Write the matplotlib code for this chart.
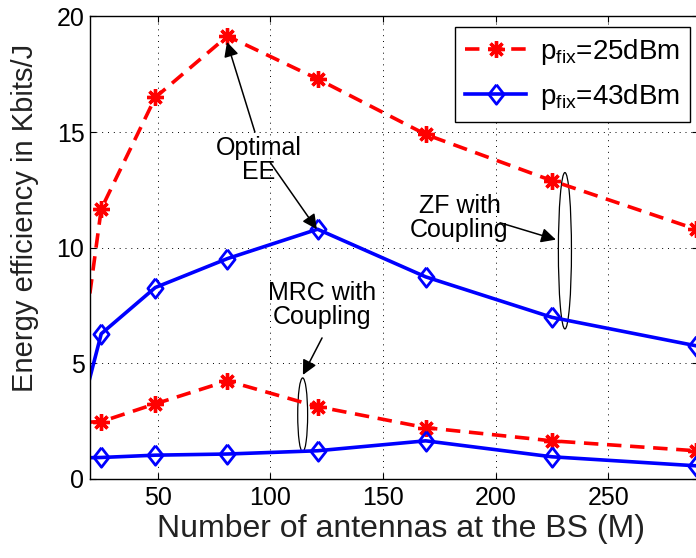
import matplotlib.pyplot as plt
from matplotlib.patches import Ellipse

plt.rcParams['font.family'] = ['Liberation Sans', 'DejaVu Sans']
plt.rcParams['mathtext.default'] = 'regular'

# number of BS antennas (odd squares)
antennas = [9, 25, 49, 81, 121, 169, 225, 289]

# energy efficiency (Kbits/J)
zf_25dbm = [0.1, 11.68, 16.5, 19.15, 17.3, 14.9, 12.9, 10.8]
zf_43dbm = [0.25, 6.28, 8.28, 9.53, 10.8, 8.74, 6.99, 5.76]
mrc_25dbm = [2.42, 2.48, 3.25, 4.24, 3.13, 2.22, 1.65, 1.22]
mrc_43dbm = [0.9, 0.93, 1.03, 1.08, 1.22, 1.65, 0.96, 0.57]

xticks = [50, 100, 150, 200, 250]
yticks = [0, 5, 10, 15, 20]

diamond = [(0, 1), (0.78, 0), (0, -1), (-0.78, 0), (0, 1)]
red_style = dict(color='red', lw=2.6, dashes=(4, 2.4), marker=(8, 2, 0),
                 ms=12, mew=2.4, mec='red')
blue_style = dict(color='blue', lw=2.6, marker=diamond, ms=14, mew=2.0,
                  mec='blue', mfc='none')

fig = plt.figure(figsize=(6.96, 5.58), dpi=100)
ax = fig.add_axes([0.1293, 0.1416, 0.874, 0.8289])

ax.plot(antennas, zf_25dbm, label=r'$p_{fix}$=25dBm', **red_style)
ax.plot(antennas, zf_43dbm, label=r'$p_{fix}$=43dBm', **blue_style)
ax.plot(antennas, mrc_25dbm, **red_style)
ax.plot(antennas, mrc_43dbm, **blue_style)

ax.set_xlim(20, 290)
ax.set_ylim(0, 20)
ax.set_xticks(xticks)
ax.set_yticks(yticks)
ax.tick_params(direction='in', length=4, width=0.8, labelsize=18,
               top=True, right=True, colors='black')
ax.tick_params(axis='x', pad=5)
ax.tick_params(axis='y', pad=4)
ax.grid(True, color='black', lw=0.7, linestyle=(0, (1, 5)))
for s in ax.spines.values():
    s.set_linewidth(1.0)

ax.set_xlabel('Number of antennas at the BS (M)', fontsize=23, color='#222222')
ax.set_ylabel('Energy efficiency in Kbits/J', fontsize=21, color='#222222')
ax.xaxis.set_label_coords(0.512, -0.075)
ax.yaxis.set_label_coords(-0.084, 0.564)

# annotations
arrow = dict(arrowstyle='-|>', color='black', lw=1.1, mutation_scale=22,
             shrinkA=0, shrinkB=0)
ax.text(95, 13.8, 'Optimal\nEE', fontsize=18, ha='center', va='center',
        linespacing=1.0)
ax.annotate('', xy=(80.8, 18.9), xytext=(93.2, 15.0), arrowprops=arrow)
ax.annotate('', xy=(120.7, 10.8), xytext=(99.9, 13.7), arrowprops=arrow)

ax.text(184, 11.3, 'ZF with\nCoupling', fontsize=18, ha='center', va='center',
        linespacing=1.0)
ax.annotate('', xy=(226.8, 10.35), xytext=(202, 11.08), arrowprops=arrow)
ax.add_patch(Ellipse((230.8, 9.87), 5.8, 6.76, fill=False, ec='black', lw=0.9))

ax.text(123, 7.53, 'MRC with\nCoupling', fontsize=18, ha='center', va='center',
        linespacing=1.0)
ax.annotate('', xy=(114.5, 4.5), xytext=(123, 6.1), arrowprops=arrow)
ax.add_patch(Ellipse((114.4, 2.77), 4.4, 3.2, fill=False, ec='black', lw=0.9))

leg = ax.legend(loc='upper right', bbox_to_anchor=(690 / 696, 1 - 27 / 558),
                bbox_transform=fig.transFigure, borderaxespad=0, fontsize=20,
                fancybox=False, framealpha=1, edgecolor='black',
                handlelength=2.2, handletextpad=0.5, borderpad=0.35,
                labelspacing=0.55)
leg.get_frame().set_linewidth(1.0)

fig.savefig('out.png', dpi=100)
